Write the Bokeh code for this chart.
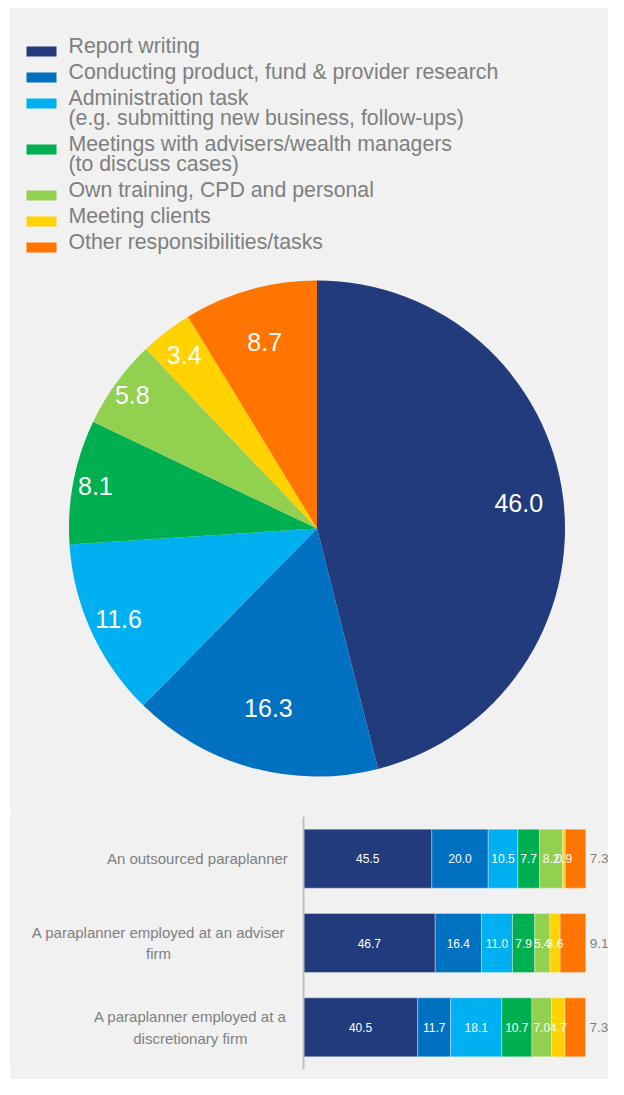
import numpy as np
from bokeh.plotting import figure
from bokeh.models import ColumnDataSource, FactorRange, Range1d, Span, FixedTicker
from bokeh.layouts import column
from bokeh.core.properties import value
from bokeh.embed import file_html
from bokeh.resources import INLINE

# ---------------- data ----------------
activities = [
    "Report writing",
    "Conducting product, fund & provider research",
    "Administration task\n(e.g. submitting new business, follow-ups)",
    "Meetings with advisers/wealth managers\n(to discuss cases)",
    "Own training, CPD and personal",
    "Meeting clients",
    "Other responsibilities/tasks",
]
overall = [46.0, 16.3, 11.6, 8.1, 5.8, 3.4, 8.7]

groups = [
    "An outsourced paraplanner",
    "A paraplanner employed at an adviser\nfirm",
    "A paraplanner employed at a\ndiscretionary firm",
]
report_writing = [45.5, 46.7, 40.5]
research = [20.0, 16.4, 11.7]
administration = [10.5, 11.0, 18.1]
meetings_advisers = [7.7, 7.9, 10.7]
own_training = [8.2, 5.4, 7.0]
meeting_clients = [0.9, 3.6, 4.7]
other_tasks = [7.3, 9.1, 7.3]

# ---------------- styles / layout ----------------
colors = ["#213B7C", "#0070C0", "#00B0F0", "#00B050", "#92D050", "#FFD200", "#FF7500"]
BG = "#F1F1F1"
GREY_TXT = "#7F7F7F"
SANS = "Liberation Sans"
# radial position of each pie label, as a fraction of the radius (best-fit look)
pie_label_r = [0.82, 0.75, 0.88, 0.91, 0.92, 0.88, 0.78]

W = 598
H1 = 800
H2 = 272
LEFT = 10
TOP = 8


def px(x):  # image x -> fig1 data x
    return x - LEFT


def py(y):  # image y -> fig1 data y
    return (TOP + H1) - y


# ---------------- figure 1 : legend + pie ----------------
p1 = figure(width=W, height=H1, x_range=Range1d(0, W), y_range=Range1d(0, H1),
            output_backend="svg", toolbar_location=None,
            x_axis_type=None, y_axis_type=None, min_border=0)
p1.margin = (TOP, 0, 0, LEFT)
p1.background_fill_color = BG
p1.border_fill_color = BG
p1.outline_line_color = BG
p1.outline_line_width = 2
p1.grid.visible = False

# legend
sq_x, sq_y, lx, ly, lt = [], [], [], [], []
y_first = 45.0
for lab in activities:
    lines = lab.split("\n")
    sq_x.append(px(41))
    sq_y.append(py(y_first + 6))
    for k, ln in enumerate(lines):
        lx.append(px(68))
        ly.append(py(y_first + 20 * k))
        lt.append(ln)
    y_first += 26 + 20 * (len(lines) - 1)

p1.rect(x=sq_x, y=sq_y, width=30, height=10, color=colors, line_color=None)
p1.text(x=lx, y=ly, text=lt, text_font=value(SANS), text_font_size="21.3px",
        text_color=GREY_TXT, text_baseline="middle", text_align="left")

# pie
vals = np.array(overall)
tot = vals.sum()
cum = np.concatenate([[0], np.cumsum(vals)])
start = np.pi / 2 - 2 * np.pi * cum[:-1] / tot
end = np.pi / 2 - 2 * np.pi * cum[1:] / tot
mid = (start + end) / 2
cx, cy, R = px(316.5), py(528), 248
pie_src = ColumnDataSource(dict(start=start, end=end, color=colors))
p1.wedge(x=cx, y=cy, radius=R, start_angle="start", end_angle="end",
         direction="clock", color="color", line_color=None, source=pie_src)
rl = R * np.array(pie_label_r)
p1.text(x=cx + rl * np.cos(mid), y=cy + rl * np.sin(mid),
        text=[f"{v:.1f}" for v in overall], text_font=value(SANS),
        text_font_size="25px", text_color="white",
        text_align="center", text_baseline="middle")

# ---------------- figure 2 : stacked bars ----------------
AX0, AX100 = 303, 585          # image x of 0 % and 100 %
ppu = (AX100 - AX0) / 100.0
x0 = (LEFT - AX0) / ppu
x1 = (LEFT + W - AX0) / ppu
p2 = figure(width=W, height=H2, x_range=Range1d(x0, x1),
            y_range=FactorRange(factors=groups[::-1], range_padding=0),
            output_backend="svg", toolbar_location=None,
            x_axis_type=None, y_axis_type=None,
            min_border_left=0, min_border_right=0, min_border_top=9, min_border_bottom=10)
p2.margin = (-1, 0, 0, LEFT)
p2.background_fill_color = BG
p2.border_fill_color = BG
p2.outline_line_color = BG
p2.outline_line_width = 2
p2.ygrid.visible = False
p2.xgrid.ticker = FixedTicker(ticks=[50, 100])
p2.xgrid.grid_line_color = "#DADADA"
p2.xgrid.grid_line_width = 2
p2.add_layout(Span(location=0, dimension="height", line_color="#BFBFBF", line_width=2))

keys = ["report_writing", "research", "administration", "meetings_advisers",
        "own_training", "meeting_clients", "other_tasks"]
series = [report_writing, research, administration, meetings_advisers,
          own_training, meeting_clients, other_tasks]
bar_src = ColumnDataSource(dict(group=groups, **{k: s for k, s in zip(keys, series)}))
p2.hbar_stack(keys, y="group", height=0.7, color=colors, source=bar_src,
              line_color="white", line_alpha=0.35, line_width=1)

arr = np.array(series)  # (segments, groups)
cums = np.cumsum(arr, axis=0)
in_x, in_y, in_t = [], [], []
out_x, out_y, out_t = [], [], []
for g in range(len(groups)):
    for s in range(len(keys)):
        v = arr[s, g]
        if s < len(keys) - 1:
            in_x.append(cums[s, g] - v / 2)
            in_y.append(groups[g])
            in_t.append(f"{v:.1f}")
        else:
            out_x.append(cums[s, g])
            out_y.append(groups[g])
            out_t.append(f"{v:.1f}")

p2.text(x=in_x, y=in_y, text=in_t, text_font=value(SANS), text_font_size="12px",
        text_color="white", text_align="center", text_baseline="middle")
p2.text(x=out_x, y=out_y, text=out_t, text_font=value(SANS), text_font_size="13.5px",
        text_color=GREY_TXT, text_align="left", text_baseline="middle", x_offset=4)

# category labels (lines centred on each other, block right-aligned at image x 285)
CHAR_W = 7.05
label_right = (285 - AX0) / ppu
cl_x, cl_y, cl_t, cl_off = [], [], [], []
for g in groups:
    lines = g.split("\n")
    block_w = max(len(l) for l in lines) * CHAR_W
    cxl = label_right - (block_w / 2) / ppu
    n = len(lines)
    for k, ln in enumerate(lines):
        cl_x.append(cxl)
        cl_y.append(g)
        cl_t.append(ln)
        cl_off.append((k - (n - 1) / 2) * 21.5)
cl_src = ColumnDataSource(dict(x=cl_x, y=cl_y, t=cl_t, off=cl_off))
p2.text(x="x", y="y", text="t", y_offset="off", source=cl_src,
        text_font=value(SANS), text_font_size="15px", text_color=GREY_TXT,
        text_align="center", text_baseline="middle")

layout = column(p1, p2, spacing=0)
open("out.html", "w").write(file_html(layout, INLINE))
